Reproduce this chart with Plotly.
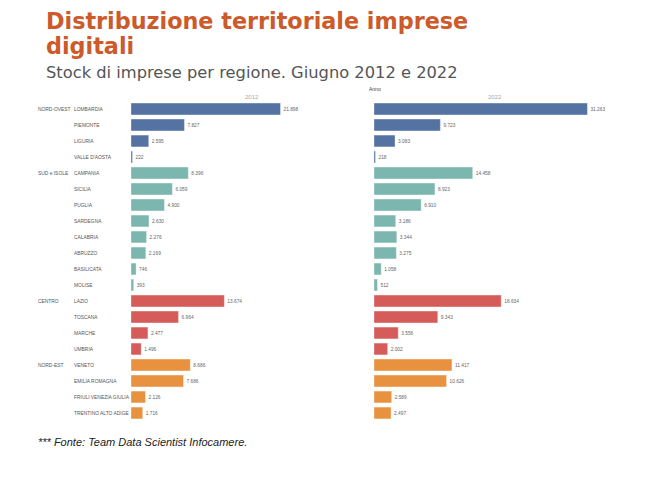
import plotly.graph_objects as go

regions = ["LOMBARDIA", "PIEMONTE", "LIGURIA", "VALLE D'AOSTA",
           "CAMPANIA", "SICILIA", "PUGLIA", "SARDEGNA", "CALABRIA", "ABRUZZO", "BASILICATA", "MOLISE",
           "LAZIO", "TOSCANA", "MARCHE", "UMBRIA",
           "VENETO", "EMILIA ROMAGNA", "FRIULI VENEZIA GIULIA", "TRENTINO ALTO ADIGE"]
groups = ["NORD-OVEST"] * 4 + ["SUD e ISOLE"] * 8 + ["CENTRO"] * 4 + ["NORD-EST"] * 4
values_2012 = [21898, 7827, 2595, 222,
               8396, 6059, 4900, 2630, 2276, 2169, 746, 393,
               13674, 6964, 2477, 1496,
               8686, 7686, 2126, 1716]
values_2022 = [31263, 9723, 3083, 218,
               14458, 8923, 6910, 3186, 3344, 3275, 1058, 512,
               18634, 9343, 3556, 2002,
               11417, 10626, 2589, 2497]
years = ["2012", "2022"]

group_colors = {"NORD-OVEST": "#5473a3", "SUD e ISOLE": "#7cb7af",
                "CENTRO": "#d65c59", "NORD-EST": "#e8923f"}
colors = [group_colors[g] for g in groups]

SMALL = "Liberation Sans"
W, H = 650, 480
fig = go.Figure()
for i, (yr, vals) in enumerate([(years[0], values_2012), (years[1], values_2022)]):
    fig.add_trace(go.Bar(
        x=vals, y=regions, orientation="h",
        xaxis="x" if i == 0 else "x2", yaxis="y",
        marker=dict(color=colors, line=dict(color="rgba(255,255,255,0.6)", width=0.6)),
        texttemplate="%{x:,.0f}", textposition="outside", cliponaxis=False,
        textfont=dict(size=4.8, color="#666", family=SMALL),
        showlegend=False, name=yr, hoverinfo="x+y"))

xr = [0, 35300]
fig.update_layout(
    width=W, height=H, margin=dict(l=0, r=0, t=0, b=0),
    paper_bgcolor="white", plot_bgcolor="white",
    separators=",.", bargap=0.26,
    font=dict(family="DejaVu Sans", color="#555"),
    xaxis=dict(domain=[131 / W, 372 / W], range=xr, showticklabels=False, showgrid=False, zeroline=False),
    xaxis2=dict(domain=[374 / W, 615 / W], range=xr, showticklabels=False, showgrid=False, zeroline=False),
    yaxis=dict(domain=[1 - 421 / H, 1 - 101 / H], categoryorder="array", categoryarray=regions,
               autorange="reversed", showticklabels=False, showgrid=False, zeroline=False),
)

ann = []
prev = None
for r, g in zip(regions, groups):
    ann.append(dict(text=r, x=72 / W, xref="paper", y=r, yref="y", xanchor="left", yanchor="middle",
                    showarrow=False, font=dict(size=4.9, color="#555", family=SMALL)))
    if g != prev:
        ann.append(dict(text=g, x=36 / W, xref="paper", y=r, yref="y", xanchor="left", yanchor="middle",
                        showarrow=False, font=dict(size=4.9, color="#555", family=SMALL)))
        prev = g
for i, yr in enumerate(years):
    ann.append(dict(text=yr, x=0.5, xref="x domain" if i == 0 else "x2 domain",
                    y=1 - 97 / H, yref="paper", xanchor="center", yanchor="middle", showarrow=False,
                    font=dict(size=6, color="#aaa", family=SMALL)))
ann.append(dict(text="Anno", x=367 / W, xref="paper", y=1 - 89 / H, yref="paper",
                xanchor="left", yanchor="middle", showarrow=False,
                font=dict(size=5, color="#444", family=SMALL)))
for txt, yc in [("<b>Distribuzione territoriale imprese</b>", 21), ("<b>digitali</b>", 46)]:
    ann.append(dict(text=txt, x=44 / W, xref="paper",
                    y=1 - yc / H, yref="paper", xanchor="left", yanchor="middle", align="left",
                    showarrow=False, font=dict(size=22.3, color="#cc5a2a", family="DejaVu Sans")))
ann.append(dict(text="Stock di imprese per regione. Giugno 2012 e 2022", x=44 / W, xref="paper",
                y=1 - 72 / H, yref="paper", xanchor="left", yanchor="middle",
                showarrow=False, font=dict(size=16.3, color="#555", family="DejaVu Sans")))
ann.append(dict(text="<i>*** Fonte: Team Data Scientist Infocamere.</i>", x=36 / W, xref="paper",
                y=1 - 442 / H, yref="paper", xanchor="left", yanchor="middle",
                showarrow=False, font=dict(size=11, color="#222", family="Liberation Sans")))
fig.update_layout(annotations=ann)

fig.write_html("out.html", config={"displayModeBar": False},
               post_script="document.body.style.margin='0';")
